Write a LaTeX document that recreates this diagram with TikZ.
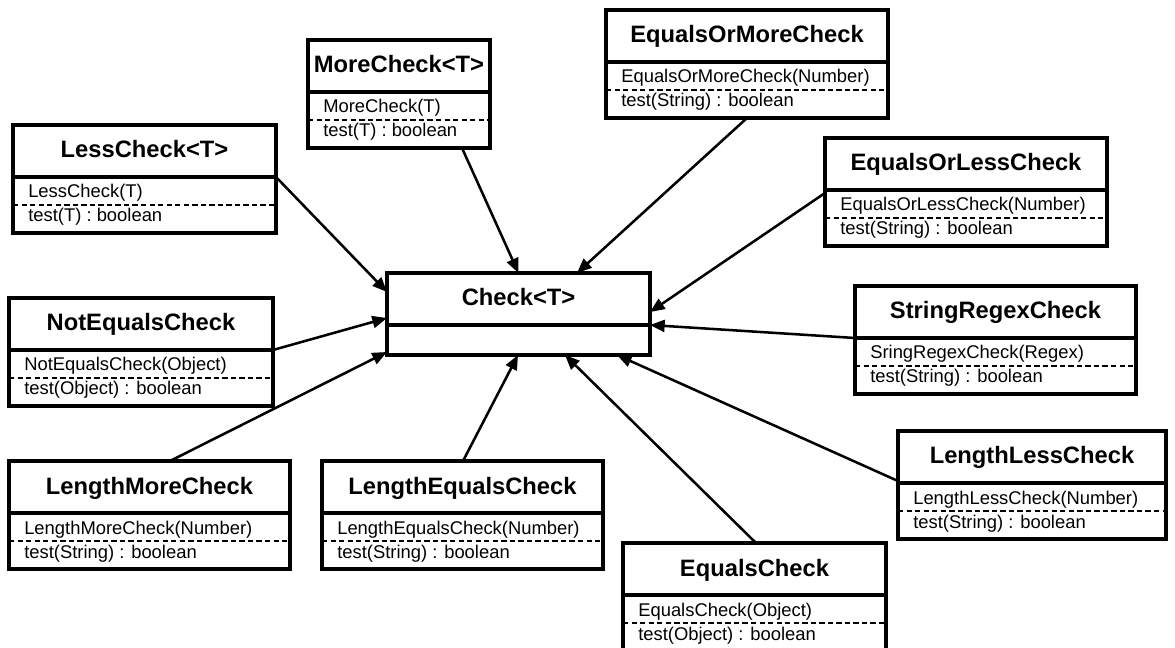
\documentclass[tikz,border=0pt]{standalone}
\usepackage{fontspec}
\setmainfont{Liberation Sans}
\usetikzlibrary{arrows.meta,calc}
\tikzset{
  classbox/.style={draw, line width=2.3pt, inner sep=0pt, outer sep=0pt, anchor=north west},
  divline/.style={line width=2.3pt},
  dashline/.style={line width=1.9pt, dash pattern=on 4pt off 2.4pt},
  ctitle/.style={inner sep=0pt, anchor=base, font=\fontsize{17.8}{20}\selectfont\bfseries},
  cmember/.style={inner sep=0pt, anchor=base west, font=\fontsize{13.8}{16}\selectfont},
  inh/.style={line width=1.9pt, -{Triangle[length=11pt,width=9pt]}},
}
\newcommand\umlclass[7]{%
  \node[classbox, minimum width={(#3-#2)*0.75pt}, minimum height={108*0.75pt}] (#1) at (#2,#4) {};
  \draw[divline] ($(#1.north west)+(0,52)$) -- ($(#1.north east)+(0,52)$);
  \draw[dashline] ($(#1.north west)+(0,80)$) -- ($(#1.north east)+(0,80)$);
  \node[ctitle] (#1-t) at ($(#1.north)+(0,33)$) {#5};
  \node[cmember] (#1-a) at ($(#1.north west)+(15,73)$) {#6};
  \node[cmember] (#1-b) at ($(#1.north west)+(15,97)$) {#7};
}
\begin{document}
\begin{tikzpicture}[x=0.75pt,y=-0.75pt]
\useasboundingbox (0,0) rectangle (1175,648);

% central class
\node[classbox, minimum width={263*0.75pt}, minimum height={82*0.75pt}] (check) at (387,273) {};
\draw[divline] ($(check.north west)+(0,52)$) -- ($(check.north east)+(0,52)$);
\node[ctitle] (check-t) at ($(check.north)+(0,33)$) {Check<T>};

\umlclass{less}{13}{276}{125}{LessCheck<T>}{LessCheck(T)}{test(T) : boolean}
\umlclass{more}{308}{490}{40}{MoreCheck<T>}{MoreCheck(T)}{test(T) : boolean}
\umlclass{eqmore}{606}{888}{10}{EqualsOrMoreCheck}{EqualsOrMoreCheck(Number)}{test(String) : boolean}
\umlclass{eqless}{825}{1107}{138}{EqualsOrLessCheck}{EqualsOrLessCheck(Number)}{test(String) : boolean}
\umlclass{regex}{855}{1136}{286}{StringRegexCheck}{SringRegexCheck(Regex)}{test(String) : boolean}
\umlclass{noteq}{9}{273}{298}{NotEqualsCheck}{NotEqualsCheck(Object)}{test(Object) : boolean}
\umlclass{lenmore}{9}{290}{461}{LengthMoreCheck}{LengthMoreCheck(Number)}{test(String) : boolean}
\umlclass{leneq}{322}{603}{461}{LengthEqualsCheck}{LengthEqualsCheck(Number)}{test(String) : boolean}
\umlclass{equals}{623}{886}{543}{EqualsCheck}{EqualsCheck(Object)}{test(Object) : boolean}
\umlclass{lenless}{898}{1166}{431}{LengthLessCheck}{LengthLessCheck(Number)}{test(String) : boolean}

% inheritance connectors
\draw[inh] ($(less.north east)+(0,52)$) -- ($(check.north west)+(0,19)$);
\draw[inh] ($(more.south west)+(154,0)$) -- (check.north);
\draw[inh] (eqmore.south) -- ($(check.north west)+(190,0)$);
\draw[inh] ($(eqless.north west)+(0,55)$) -- ($(check.north east)+(0,39)$);
\draw[inh] ($(regex.north west)+(0,52)$) -- ($(check.north east)+(0,52)$);
\draw[inh] ($(noteq.north east)+(0,52)$) -- ($(check.north west)+(0,45)$);
\draw[inh] ($(lenmore.north west)+(161,0)$) -- ($(check.south west)+(0,-3)$);
\draw[inh] ($(leneq.north west)+(141,0)$) -- ($(check.south west)+(131,0)$);
\draw[inh] ($(equals.north west)+(133,0)$) -- ($(check.south west)+(178,0)$);
\draw[inh] ($(lenless.north west)+(0,50)$) -- ($(check.south west)+(230,0)$);
\end{tikzpicture}
\end{document}
